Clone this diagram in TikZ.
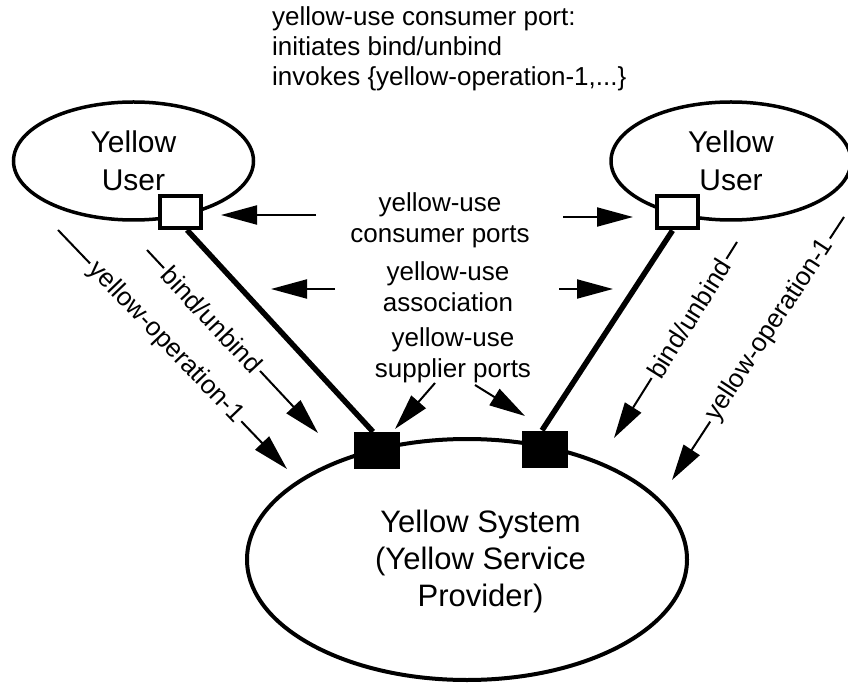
\documentclass[tikz,border=0pt]{standalone}
\usepackage{fontspec}
\setmainfont{Liberation Sans}
\usetikzlibrary{arrows.meta,shapes.geometric}
\begin{document}
\begin{tikzpicture}[x=1pt,y=-1pt,
  ell/.style={draw, ellipse, line width=3.5pt, inner sep=0pt, align=center,
              font=\fontsize{30}{38}\selectfont},
  wport/.style={draw, fill=white, line width=4pt, minimum width=41pt,
              minimum height=32pt, inner sep=0pt},
  bport/.style={fill=black, minimum width=46pt, minimum height=37pt, inner sep=0pt},
  link/.style={line width=5.5pt},
  arr/.style={line width=2pt, -{Triangle[length=36pt,width=19pt]}},
  lbl/.style={font=\fontsize{26}{31}\selectfont, align=center, inner sep=0pt},
  alab/.style={sloped, fill=white, inner sep=3pt, font=\fontsize{26}{31}\selectfont}
]
\useasboundingbox (0,0) rectangle (848,684);
\clip (0,0) rectangle (848,684);

% ellipses
\node[ell, minimum width=240pt, minimum height=118pt] (uL) at (133.5,161) {Yellow\\User};
\node[ell, minimum width=240pt, minimum height=118pt] (uR) at (731,161) {Yellow\\User};
\node[ell, line width=4pt, minimum width=440pt, minimum height=241pt] (sys) at (467,559.5) {};
\node[align=center, inner sep=0pt, font=\fontsize{31}{37}\selectfont] (sysText) at (480.5,561)
  {Yellow System\\(Yellow Service\\Provider)};

% ports
\node[wport] (wL) at (180.5,212) {};
\node[wport] (wR) at (677,212.5) {};
\node[bport] (bL) at (377,450.5) {};
\node[bport] (bR) at (545,449) {};

% associations
\draw[link] (wL.-70) -- (bL.102);
\draw[link] (wR.-104) -- (bR.99);
\node[wport] at (wL) {};
\node[wport] at (wR) {};
\node[bport] at (bL) {};
\node[bport] at (bR) {};

% top text
\node[lbl, align=left, anchor=west, font=\fontsize{26}{30}\selectfont] (top) at (272,48.7)
  {yellow-use consumer port:\\initiates bind/unbind\\invokes \{yellow-operation-1,...\}};

% middle labels
\node[lbl] (cons) at (440,220.5) {yellow-use\\consumer ports};
\node[lbl] (assoc) at (448,287) {yellow-use\\association};
\node[lbl] (supp) at (453,355.5) {yellow-use\\supplier ports};

% arrow end points
\coordinate (c1s) at (316,215); \coordinate (c1t) at (221,215);
\coordinate (c2s) at (563,217); \coordinate (c2t) at (633,217);
\coordinate (a1s) at (335,289); \coordinate (a1t) at (271,289);
\coordinate (a2s) at (559,289); \coordinate (a2t) at (613,289);
\coordinate (s1s) at (435,383); \coordinate (s1t) at (395,429);
\coordinate (s2s) at (475,385); \coordinate (s2t) at (525,416);

\draw[arr] (c1s) -- (c1t);
\draw[arr] (c2s) -- (c2t);
\draw[arr] (a1s) -- (a1t);
\draw[arr] (a2s) -- (a2t);
\draw[arr] (s1s) -- (s1t);
\draw[arr] (s2s) -- (s2t);

% labelled operation arrows
\coordinate (lbS) at (147,250); \coordinate (lbT) at (318,433);
\coordinate (loS) at (58,230);  \coordinate (loT) at (287,469);
\coordinate (rbS) at (737,242); \coordinate (rbT) at (614,438);
\coordinate (roS) at (844,217); \coordinate (roT) at (672,480);

\draw[arr] (lbS) -- node[alab, pos=0.38] {bind/unbind} (lbT);
\draw[arr] (loS) -- node[alab, pos=0.47] {yellow-operation-1} (loT);
\draw[arr] (rbS) -- node[alab, pos=0.39] {bind/unbind} (rbT);
\draw[arr] (roS) -- node[alab, pos=0.43] {yellow-operation-1} (roT);
\end{tikzpicture}
\end{document}
